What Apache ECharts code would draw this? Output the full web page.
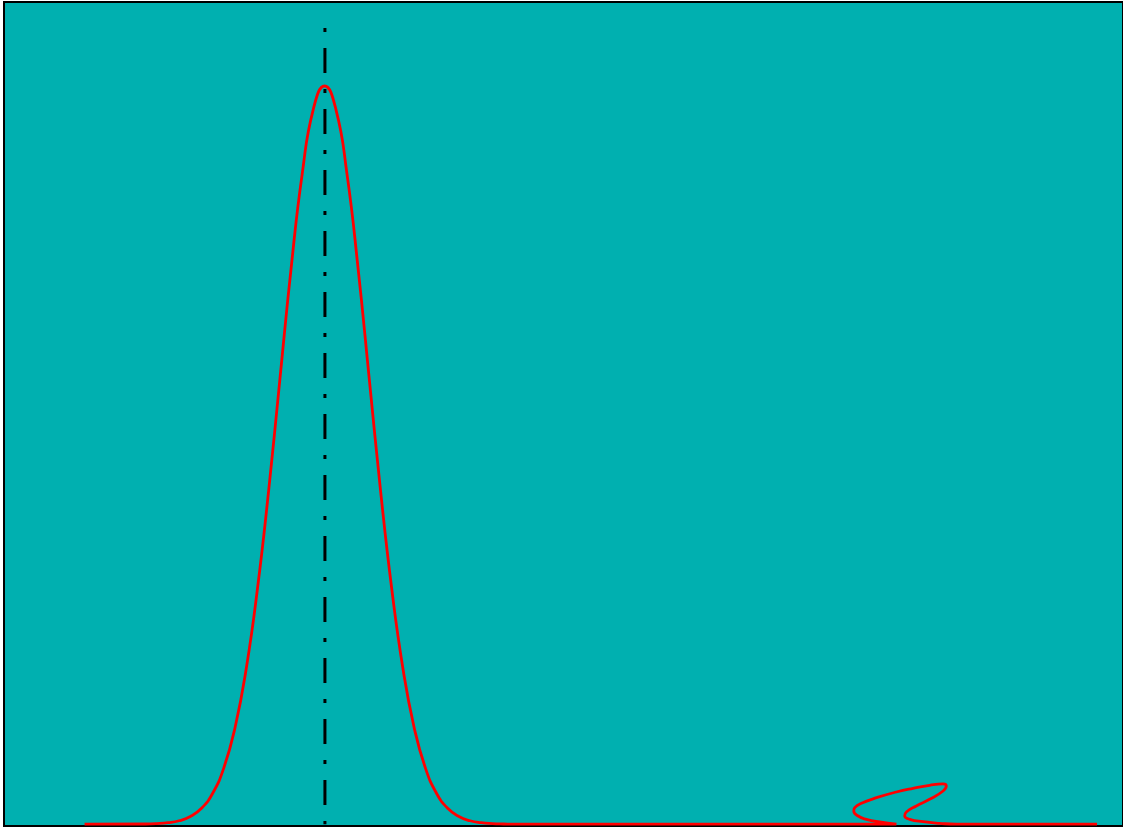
<!DOCTYPE html>
<html>
<head>
<meta charset="utf-8">
<script src="https://cdn.jsdelivr.net/npm/echarts@6/dist/echarts.min.js"></script>
<style>
html,body{margin:0;padding:0;background:#fff;}
#chart{width:1123px;height:827px;}
</style>
</head>
<body>
<div id="chart"></div>
<script>
// Red curve: x positions and heights (peak normalised to 1)
var peakX = [0.72, 1.265, 1.365, 1.465, 1.565, 1.665, 1.765, 1.865, 1.965, 2.065, 2.165, 2.265, 2.365, 2.465, 2.565, 2.665, 2.765, 2.865, 2.965, 3.065, 3.165, 3.265, 3.365, 3.465, 3.565, 3.665, 3.765, 3.865, 3.965, 4.065, 4.165, 4.265, 4.365, 4.465, 4.56];
var peakY = [0, 0.0003, 0.0008, 0.0020, 0.0047, 0.0104, 0.0215, 0.0419, 0.0765, 0.131, 0.211, 0.319, 0.452, 0.602, 0.752, 0.881, 0.969, 1.0, 0.969, 0.881, 0.752, 0.602, 0.452, 0.319, 0.211, 0.131, 0.0765, 0.0419, 0.0215, 0.0104, 0.0047, 0.0020, 0.0008, 0.0003, 0];
var loopX = [7.975, 7.826, 7.707, 7.633, 7.594, 7.603, 7.663, 7.797, 7.975, 8.124, 8.272, 8.392, 8.421, 8.392, 8.272, 8.153, 8.064, 8.049, 8.094, 8.213, 8.361, 8.510, 9.768];
var loopY = [0, 0.0030, 0.0066, 0.0111, 0.0179, 0.0224, 0.0283, 0.0359, 0.0436, 0.0486, 0.0527, 0.0545, 0.0517, 0.0450, 0.0337, 0.0247, 0.0165, 0.0111, 0.0066, 0.0034, 0.0012, 0, 0];
// Vertical dash-dot marker at the peak position
var markerX = [2.868, 2.868];
var markerY = [1.0786, 0];

var curveX = peakX.concat(loopX);
var curveY = peakY.concat(loopY);
var curveData = curveX.map(function (x, i) { return [x, curveY[i]]; });
var markerData = markerX.map(function (x, i) { return [x, markerY[i]]; });

var chart = echarts.init(document.getElementById('chart'), null, {renderer: 'canvas'});
chart.setOption({
  animation: false,
  backgroundColor: '#ffffff',
  grid: {
    left: 4, top: 2, right: -2, bottom: 1,
    show: true, backgroundColor: '#00B0B0',
    borderColor: '#000000', borderWidth: 2
  },
  xAxis: {
    type: 'value', min: 0, max: 10,
    axisLine: {show: false}, axisTick: {show: false},
    axisLabel: {show: false}, splitLine: {show: false}
  },
  yAxis: {
    type: 'value', min: -0.00244, max: 1.11379,
    axisLine: {show: false}, axisTick: {show: false},
    axisLabel: {show: false}, splitLine: {show: false}
  },
  series: [
    {
      type: 'line', data: markerData, symbol: 'none', silent: true,
      lineStyle: {color: '#000000', width: 3, type: [4, 16, 25, 16], cap: 'butt'},
      z: 2
    },
    {
      type: 'line', data: curveData, symbol: 'none', smooth: 0.5, silent: true,
      lineStyle: {color: '#FF0000', width: 2.8},
      z: 3
    }
  ]
});
</script>
</body>
</html>
